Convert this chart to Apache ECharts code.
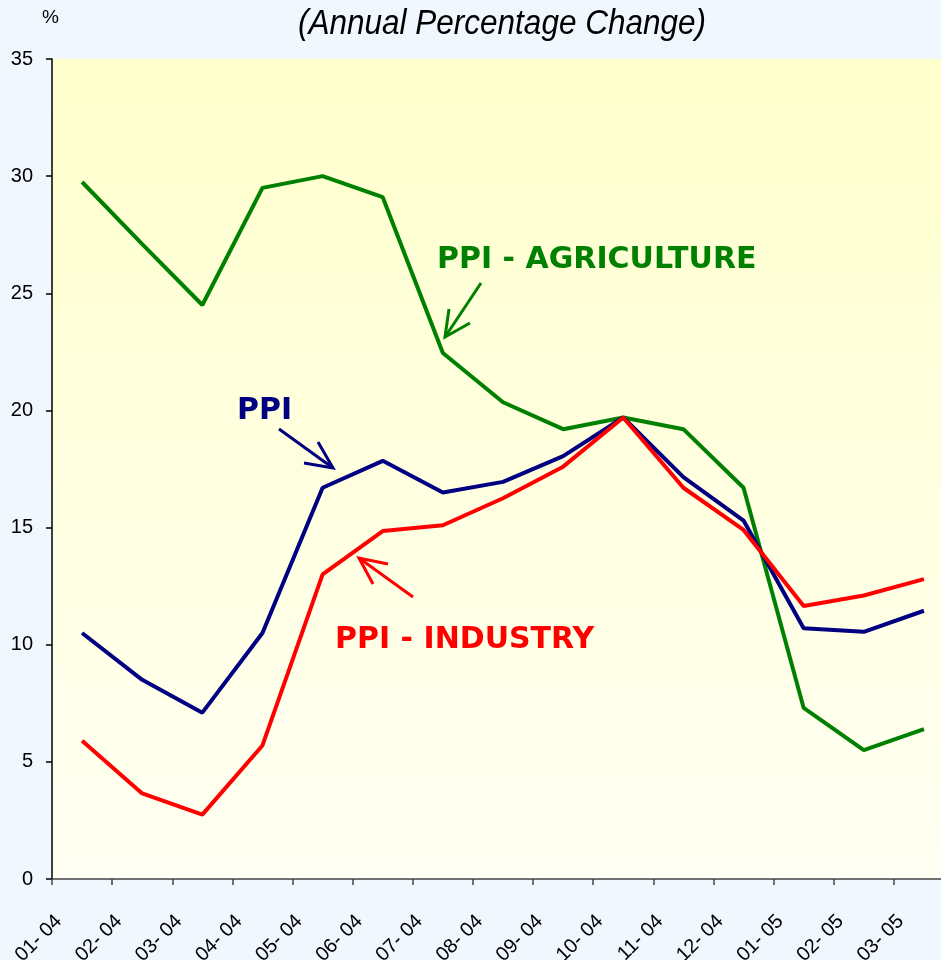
<!DOCTYPE html>
<html>
<head>
<meta charset="utf-8">
<script src="https://cdn.jsdelivr.net/npm/echarts/dist/echarts.min.js"></script>
<style>
  html, body { margin: 0; padding: 0; background: #f0f7ff; }
  #main { width: 941px; height: 960px; }
</style>
</head>
<body>
<div id="main"></div>
<script>
// monthly labels, Jan 2004 - Mar 2005
var months = ['01- 04', '02- 04', '03- 04', '04- 04', '05- 04', '06- 04', '07- 04', '08- 04',
  '09- 04', '10- 04', '11- 04', '12- 04', '01- 05', '02- 05', '03- 05'];

var ppiAgriculture = [29.75, 27.1, 24.5, 29.5, 30.0, 29.1, 22.45, 20.35, 19.2, 19.7, 19.2, 16.7, 7.3, 5.5, 6.4];
var ppiTotal = [10.5, 8.5, 7.1, 10.5, 16.7, 17.85, 16.5, 16.95, 18.05, 19.7, 17.15, 15.3, 10.7, 10.55, 11.45];
var ppiIndustry = [5.9, 3.65, 2.75, 5.7, 13.0, 14.85, 15.1, 16.25, 17.6, 19.7, 16.7, 14.9, 11.65, 12.1, 12.8];

var yTicks = [0, 5, 10, 15, 20, 25, 30, 35];

var chart = echarts.init(document.getElementById('main'));

function arrow(pts, color) {
  // pts: shaft start, tip, head arm 1, head arm 2
  return [
    { type: 'polyline', shape: { points: [pts[0], pts[1]] }, style: { stroke: color, lineWidth: 3, fill: null }, z: 10 },
    { type: 'polyline', shape: { points: [pts[2], pts[1], pts[3]] }, style: { stroke: color, lineWidth: 3, fill: null }, z: 10 }
  ];
}

function label(text, x, y, color) {
  return {
    type: 'text', x: x, y: y, z: 10,
    style: { text: text, fill: color, font: 'bold 30px "DejaVu Sans"', textAlign: 'left', textVerticalAlign: 'middle' }
  };
}

var graphics = [
  // title, slightly condensed like the original narrow italic face
  {
    type: 'text', x: 502, y: 24, scaleX: 0.9,
    style: { text: '(Annual Percentage Change)', fill: '#000', font: 'italic 35px "Liberation Sans"', textAlign: 'center', textVerticalAlign: 'middle' }
  },
  { type: 'text', left: 42, top: 8, style: { text: '%', fill: '#000', font: '19px "Liberation Sans"' } },
  label('PPI - AGRICULTURE', 437, 260, '#008000'),
  label('PPI', 237, 411, '#000080'),
  label('PPI - INDUSTRY', 335, 640, '#ff0000')
].concat(
  arrow([[481, 283], [445, 337], [449, 309], [470, 323]], '#008000'),
  arrow([[279, 429], [333, 468], [318, 442], [304, 463]], '#000080'),
  arrow([[413, 597], [359, 558], [388, 564], [373, 584]], '#ff0000')
);

chart.setOption({
  backgroundColor: '#f0f7ff',
  animation: false,
  grid: {
    left: 52, top: 59, width: 902, height: 820,
    outerBoundsMode: 'none',
    show: true, borderWidth: 0,
    backgroundColor: new echarts.graphic.LinearGradient(0, 0, 0, 1, [
      { offset: 0, color: '#ffffcc' },
      { offset: 1, color: '#fffff3' }
    ])
  },
  xAxis: {
    type: 'category',
    data: months,
    boundaryGap: true,
    axisLine: { lineStyle: { color: '#444', width: 1.5 } },
    axisTick: { show: true, interval: 0, length: 6, lineStyle: { color: '#444', width: 1.5 } },
    axisLabel: {
      interval: 0, rotate: 45, margin: 16,
      padding: [0, 33, 0, 0],
      fontFamily: 'Liberation Sans', fontSize: 20, color: '#000'
    },
    splitLine: { show: false }
  },
  yAxis: {
    type: 'value',
    min: yTicks[0], max: yTicks[yTicks.length - 1], interval: 5,
    axisLine: { show: true, lineStyle: { color: '#000', width: 1.5 } },
    axisTick: { show: true, length: 6, lineStyle: { color: '#000', width: 1.5 } },
    axisLabel: { margin: 19, fontFamily: 'Liberation Sans', fontSize: 20, color: '#000' },
    splitLine: { show: false }
  },
  series: [
    { name: 'PPI - AGRICULTURE', type: 'line', data: ppiAgriculture, symbol: 'none', lineStyle: { color: '#008000', width: 4 } },
    { name: 'PPI', type: 'line', data: ppiTotal, symbol: 'none', lineStyle: { color: '#000080', width: 4 } },
    { name: 'PPI - INDUSTRY', type: 'line', data: ppiIndustry, symbol: 'none', lineStyle: { color: '#ff0000', width: 4 } }
  ],
  graphic: graphics
});
</script>
</body>
</html>
